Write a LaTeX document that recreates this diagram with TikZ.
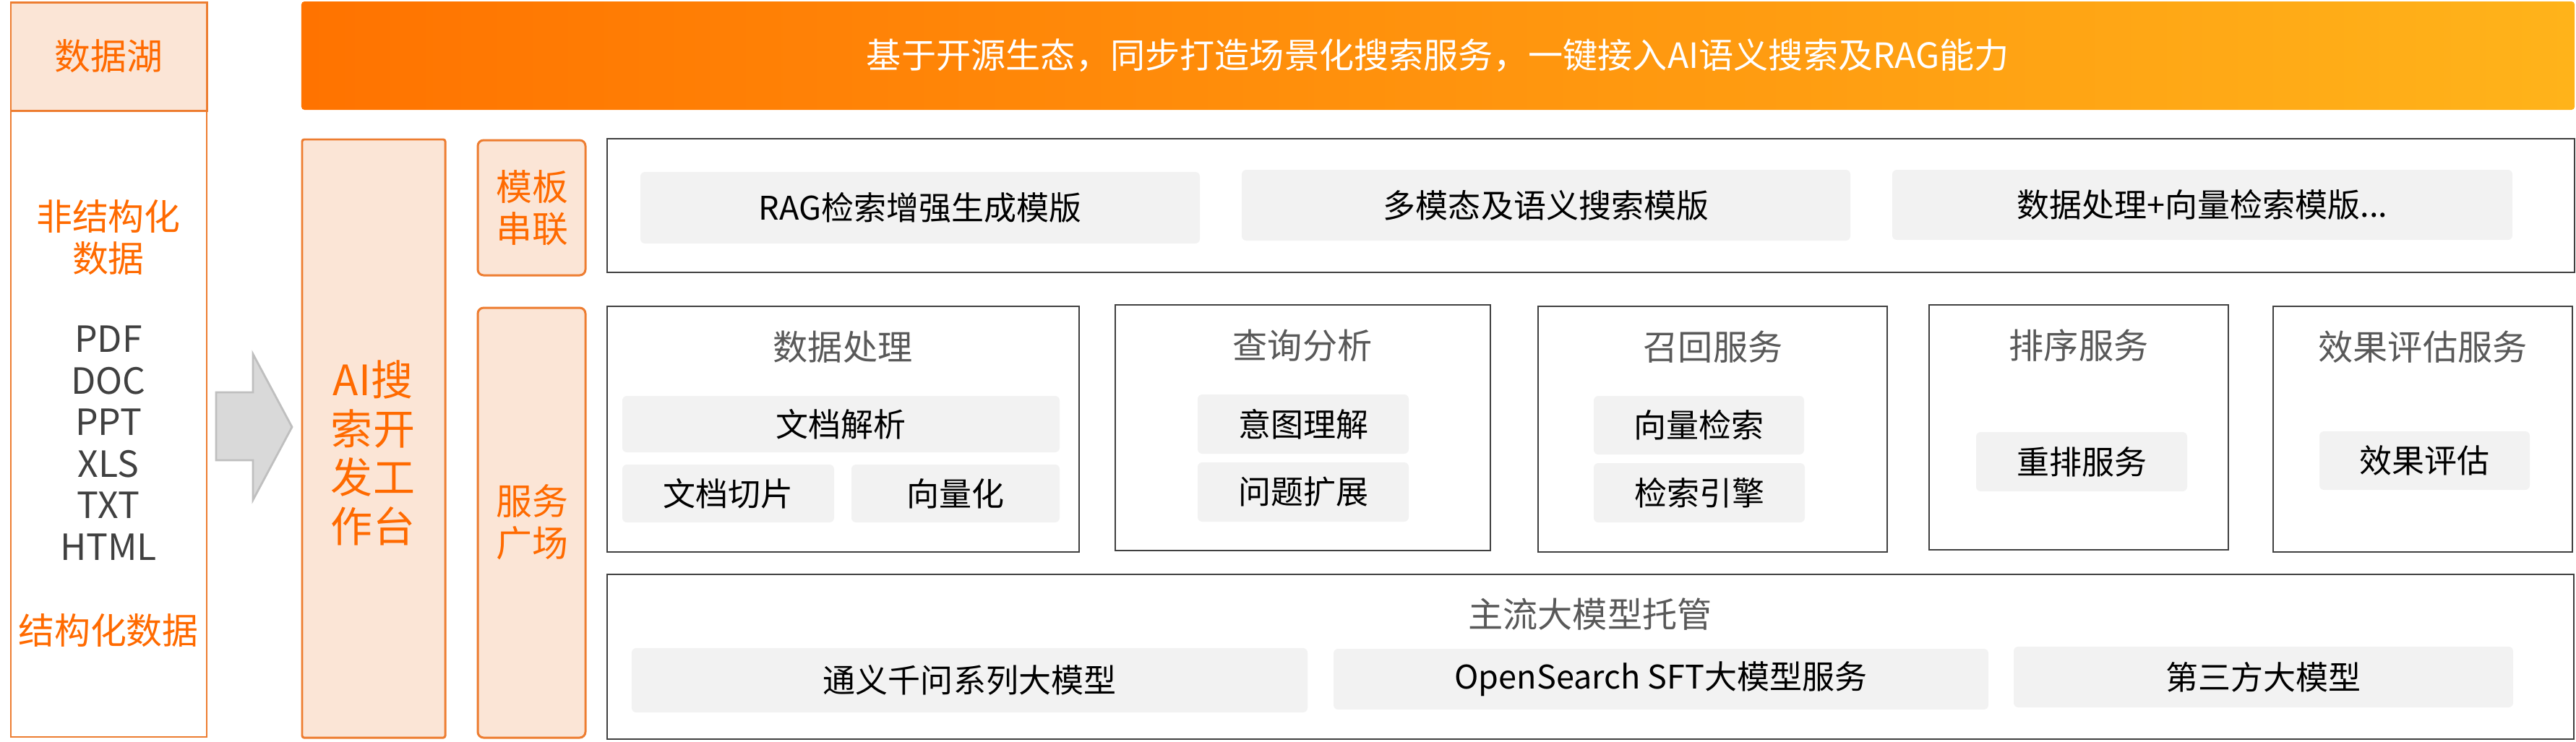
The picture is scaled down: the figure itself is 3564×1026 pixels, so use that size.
\documentclass[tikz,border=0pt]{standalone}
\usepackage{fontspec}
\setmainfont{Noto Sans CJK SC}
\definecolor{org}{HTML}{FF6A00}
\definecolor{orgline}{HTML}{ED7D31}
\definecolor{peach}{HTML}{FBE5D6}
\definecolor{dk}{HTML}{404040}
\definecolor{ttl}{HTML}{595959}
\definecolor{itm}{HTML}{F2F2F2}
\definecolor{gA}{HTML}{FF7300}
\definecolor{gB}{HTML}{FFB31A}
\definecolor{arfill}{HTML}{D9D9D9}
\definecolor{arline}{HTML}{BFBFBF}
\tikzset{
  boxbase/.style={inner sep=0pt, outer sep=0pt},
  pbox/.style={boxbase, draw=orgline, line width=0.85pt, fill=peach, text=org},
  wbox/.style={boxbase, draw=dk, line width=0.55pt, fill=white},
  ibox/.style={boxbase, fill=itm, rounded corners=1.8pt, text=black, font=\fontsize{12.8pt}{14pt}\selectfont},
  ttlnode/.style={text=ttl, inner sep=0pt, font=\fontsize{13.7pt}{15pt}\selectfont},
  otxt/.style={text=org, align=center, inner sep=0pt, font=\fontsize{14.2pt}{16.5pt}\selectfont},
}
% box by corners: name, style, x1, y1, x2, y2, text
\newcommand\bx[7]{%
  \pgfmathsetmacro\bxcx{(#3+#5)/2}\pgfmathsetmacro\bxcy{(#4+#6)/2}%
  \pgfmathsetmacro\bxw{(#5-#3)*0.01}\pgfmathsetmacro\bxh{(#6-#4)*0.01}%
  \node[#2, minimum width=\bxw cm, minimum height=\bxh cm] (#1) at (\bxcx,\bxcy) {#7};}
\begin{document}
\begin{tikzpicture}[x=0.01cm, y=-0.01cm]
\useasboundingbox (0,0) rectangle (3564,1026);
% ---------- left column ----------
\bx{lake}{boxbase, draw=orgline, line width=0.45pt}{15}{153}{286}{1020}{}
\bx{lakehd}{pbox, font=\fontsize{14.2pt}{16.5pt}\selectfont}{15}{3}{286}{153}{数据湖}
\node[otxt] (unstr) at (150,329) {非结构化\\数据};
\node[text=dk, align=center, inner sep=0pt, font=\fontsize{14.2pt}{16.35pt}\selectfont] (fmts) at (150,613) {PDF\\DOC\\PPT\\XLS\\TXT\\HTML};
\node[otxt] (str) at (150,873) {结构化数据};
% ---------- block arrow ----------
\draw[fill=arfill, draw=arline, line width=0.8pt, line join=miter]
  (299,543) -- (350,543) -- (350,490) -- (404,591) -- (350,692) -- (350,637) -- (299,637) -- cycle;
% ---------- AI workbench ----------
\bx{ai}{pbox, rounded corners=0.8pt}{418}{193}{616}{1021}{}
\node[otxt, font=\fontsize{16.5pt}{19.2pt}\selectfont] (aitxt) at (516,627) {AI搜\\索开\\发工\\作台};
% ---------- header ----------
\bx{hdr}{boxbase, left color=gA, right color=gB, rounded corners=1.2pt, text=white,
      font=\fontsize{13.7pt}{15pt}\selectfont}{417}{2}{3562}{152}
  {基于开源生态，同步打造场景化搜索服务，一键接入AI语义搜索及RAG能力}
% ---------- side labels ----------
\bx{tplbox}{pbox, rounded corners=2.3pt}{661}{194}{810}{381}{}
\node[otxt] (tpltxt) at (736,288) {模板\\串联};
\bx{svcbox}{pbox, rounded corners=2.3pt}{661}{426}{810}{1021}{}
\node[otxt] (svctxt) at (736,723) {服务\\广场};
% ---------- template row ----------
\bx{tplrow}{wbox}{840}{192}{3562}{377}{}
\bx{t1}{ibox}{886}{238}{1660}{337}{RAG检索增强生成模版}
\bx{t2}{ibox}{1718}{235}{2560}{333}{多模态及语义搜索模版}
\bx{t3}{ibox}{2618}{235}{3476}{332}{数据处理+向量检索模版...}
% ---------- services row ----------
\bx{s1}{wbox}{840}{424}{1493}{764}{}
\node[ttlnode] (s1t) at (1166,480) {数据处理};
\bx{s1a}{ibox}{861}{548}{1466}{626}{文档解析}
\bx{s1b}{ibox}{861}{643}{1154}{723}{文档切片}
\bx{s1c}{ibox}{1178}{643}{1466}{723}{向量化}

\bx{s2}{wbox}{1543}{422}{2062}{762}{}
\node[ttlnode] (s2t) at (1802,478) {查询分析};
\bx{s2a}{ibox}{1657}{546}{1949}{628}{意图理解}
\bx{s2b}{ibox}{1657}{640}{1949}{722}{问题扩展}

\bx{s3}{wbox}{2128}{424}{2611}{764}{}
\node[ttlnode] (s3t) at (2370,480) {召回服务};
\bx{s3a}{ibox}{2205}{548}{2496}{629}{向量检索}
\bx{s3b}{ibox}{2205}{641}{2497}{723}{检索引擎}

\bx{s4}{wbox}{2669}{422}{3083}{761}{}
\node[ttlnode] (s4t) at (2876,478) {排序服务};
\bx{s4a}{ibox}{2734}{598}{3026}{680}{重排服务}

\bx{s5}{wbox}{3145}{424}{3559}{764}{}
\node[ttlnode] (s5t) at (3352,480) {效果评估服务};
\bx{s5a}{ibox}{3209}{597}{3500}{678}{效果评估}
% ---------- model hosting ----------
\bx{mdl}{wbox}{840}{795}{3561}{1023}{}
\node[ttlnode] (mdlt) at (2200,850) {主流大模型托管};
\bx{m1}{ibox}{874}{897}{1809}{986}{通义千问系列大模型}
\bx{m2}{ibox}{1845}{898}{2751}{982}{OpenSearch SFT大模型服务}
\bx{m3}{ibox}{2786}{895}{3477}{979}{第三方大模型}
\end{tikzpicture}
\end{document}
